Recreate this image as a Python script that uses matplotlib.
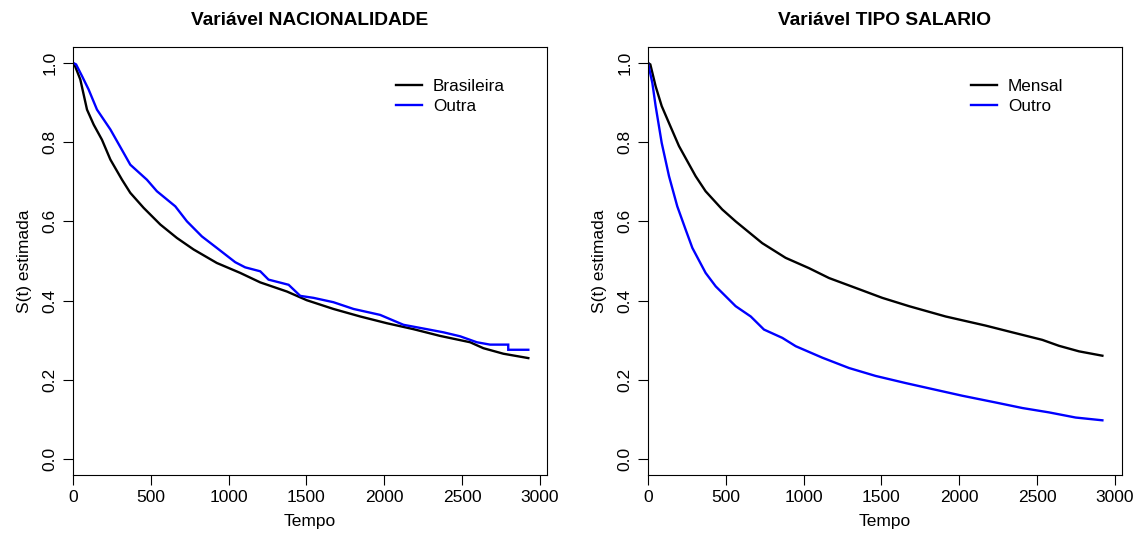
import numpy as np
from matplotlib import pyplot as plt

plt.rcParams['font.family'] = ['Liberation Sans', 'DejaVu Sans']

# Kaplan-Meier estimates
t_bras = [0, 15, 47, 90, 133, 186, 240, 315, 368, 454, 561, 668, 775, 924, 1074, 1203, 1374,
          1502, 1673, 1845, 2016, 2187, 2358, 2551, 2636, 2765, 2925]
s_bras = [1.0, 0.99, 0.958, 0.882, 0.844, 0.806, 0.756, 0.705, 0.672, 0.634, 0.592, 0.558, 0.529,
          0.495, 0.470, 0.446, 0.423, 0.401, 0.379, 0.360, 0.343, 0.328, 0.311, 0.295,
          0.280, 0.266, 0.255]

t_outra = [0, 20, 60, 100, 154, 240, 325, 368, 475, 539, 657, 732, 828, 924, 1042, 1106,
           1203, 1256, 1385, 1460, 1545, 1673, 1802, 1973, 2123, 2273, 2380, 2487, 2594,
           2679, 2796, 2796, 2925]
s_outra = [1.0, 0.996, 0.965, 0.933, 0.882, 0.832, 0.773, 0.743, 0.705, 0.676, 0.638, 0.600,
           0.562, 0.533, 0.497, 0.484, 0.474, 0.453, 0.440, 0.412, 0.407, 0.396, 0.379,
           0.364, 0.339, 0.328, 0.320, 0.310, 0.295, 0.289, 0.289, 0.276, 0.276]

t_mensal = [0, 15, 49, 88, 135, 199, 306, 370, 477, 563, 734, 884, 1034, 1163, 1355, 1505,
            1677, 1912, 2169, 2340, 2533, 2640, 2769, 2919]
s_mensal = [1.0, 0.996, 0.941, 0.891, 0.848, 0.790, 0.714, 0.676, 0.630, 0.600, 0.545, 0.508,
            0.482, 0.457, 0.429, 0.407, 0.386, 0.360, 0.337, 0.320, 0.301, 0.286, 0.272, 0.261]

t_outro = [0, 28, 49, 88, 135, 188, 242, 285, 370, 435, 563, 660, 745, 863, 949, 1120, 1291,
           1462, 1655, 1848, 2019, 2233, 2405, 2576, 2747, 2919]
s_outro = [1.0, 0.949, 0.891, 0.798, 0.714, 0.638, 0.579, 0.533, 0.470, 0.436, 0.386, 0.360,
           0.327, 0.306, 0.285, 0.256, 0.230, 0.210, 0.192, 0.175, 0.160, 0.143, 0.129, 0.118,
           0.105, 0.098]

titles = ['Variável NACIONALIDADE', 'Variável TIPO SALARIO']
labels = [['Brasileira', 'Outra'], ['Mensal', 'Outro']]
series = [[(t_bras, s_bras), (t_outra, s_outra)], [(t_mensal, s_mensal), (t_outro, s_outro)]]
colors = ['black', '#0000ff']

fig = plt.figure(figsize=(11.47, 5.41), dpi=100)
lefts = [73/1147, 648/1147]
for k in range(2):
    ax = fig.add_axes([lefts[k], 1-475/541, 474/1147, 428/541])
    for (t, s), c, lab in zip(series[k], colors, labels[k]):
        ax.plot(t, s, color=c, lw=1.7, label=lab, solid_joinstyle='miter')
    ax.set_xlim(0, 3045)
    ax.set_ylim(-0.04, 1.04)
    ax.set_xticks(np.arange(0, 3001, 500))
    ax.set_yticks(np.arange(0, 1.01, 0.2))
    ax.set_yticklabels(['%.1f' % v for v in np.arange(0, 1.01, 0.2)], rotation=90, va='center')
    ax.tick_params(direction='out', length=7, width=0.8, labelsize=12.5, pad=4)
    ax.set_xlabel('Tempo', fontsize=12.5, labelpad=6)
    ax.set_ylabel('S(t) estimada', fontsize=12.5, labelpad=8)
    ax.set_title(titles[k], fontsize=13.8, fontweight='bold', pad=16)
    for sp in ax.spines.values():
        sp.set_linewidth(0.8)
    ax.legend(loc='upper left', bbox_to_anchor=(0.682, 0.926), frameon=False, fontsize=12.3,
              handlelength=1.5, handletextpad=0.65, labelspacing=0.32,
              borderpad=0, borderaxespad=0)

fig.savefig('out.png', dpi=100)
